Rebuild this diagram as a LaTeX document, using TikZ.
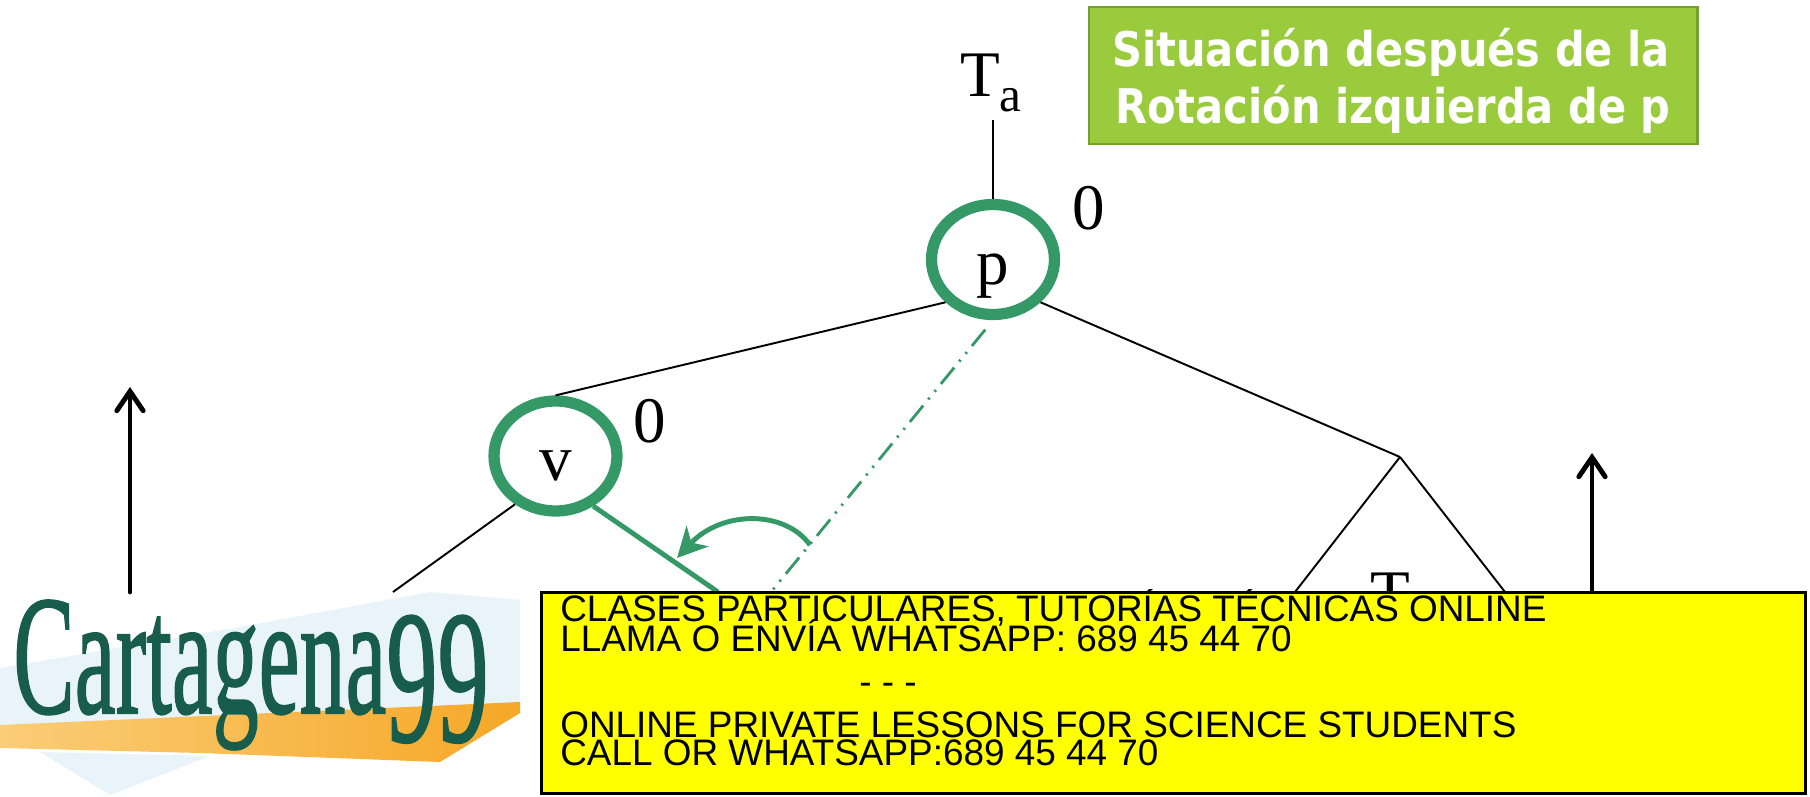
\documentclass[tikz,border=0pt]{standalone}
\usepackage{fontspec}
\usepackage{graphicx}
\setmainfont{Liberation Serif}
\newfontfamily\adfont{Liberation Sans}
\newfontfamily\ttlfont{DejaVu Sans}
\newfontfamily\logofont[FakeBold=1.2]{Liberation Serif}
\usetikzlibrary{shapes.geometric,arrows.meta}
\definecolor{ringgreen}{RGB}{52,153,102}
\definecolor{titlefill}{RGB}{154,203,60}
\definecolor{titleborder}{RGB}{118,160,44}
\definecolor{adyellow}{RGB}{255,255,0}
\definecolor{logoteal}{RGB}{24,92,76}
\definecolor{logoorange}{RGB}{246,168,38}
\definecolor{logoorangelight}{RGB}{250,205,120}
\definecolor{logoblue}{RGB}{232,243,250}
\begin{document}
\begin{tikzpicture}[x=0.02cm,y=-0.02cm,
  ring/.style={ellipse, draw=ringgreen, line width=6.4pt, fill=white,
    minimum width=2.46cm, minimum height=2.2cm, inner sep=0pt,
    text height=1cm, text depth=0pt, font=\fontsize{37}{37}\selectfont},
  lbl/.style={inner sep=0pt, font=\fontsize{37}{37}\selectfont},
  edge/.style={draw=black, line width=1.1pt},
  greenedge/.style={draw=ringgreen, line width=2.8pt},
  greenarrow/.style={draw=ringgreen, line width=2.8pt, -{Stealth[length=17pt,width=17pt,inset=5pt]}},
  dashdotgreen/.style={draw=ringgreen, line width=1.6pt,
    dash pattern=on 12pt off 4.5pt on 1.2pt off 4.5pt on 1.2pt off 4.5pt},
  bigarrow/.style={draw=black, line width=2.8pt, line cap=round,
    -{Straight Barb[length=11pt,width=15pt,line cap=round]}},
  titlebox/.style={rectangle, fill=titlefill, draw=titleborder, line width=1.2pt,
    minimum width=12.18cm, minimum height=2.74cm, inner sep=0pt},
  titletext/.style={inner sep=0pt, text=white, font=\ttlfont\bfseries\fontsize{27.2}{27.2}\selectfont},
  adbox/.style={rectangle, fill=adyellow, draw=black, line width=1.7pt,
    minimum width=25.3cm, minimum height=4.04cm, inner sep=0pt},
  adtext/.style={inner sep=0pt, text=black, font=\adfont\fontsize{21}{21}\selectfont},
]
\useasboundingbox (0,0) rectangle (1810,797);

% ---- coordinates for free ends
\coordinate (ta) at (993,120);
\coordinate (apex) at (1400,457);
\coordinate (tl) at (1295,592);
\coordinate (tr) at (1505,592);
\coordinate (vl) at (393,592);
\coordinate (vr) at (718,592);
\coordinate (ddend) at (771,592);
\coordinate (cs) at (810,545);
\coordinate (ct) at (677,558);
\coordinate (la0) at (130,592);
\coordinate (la1) at (130,387);
\coordinate (ra0) at (1592,592);
\coordinate (ra1) at (1592,453);

% ---- nodes
\node[ring] (p) at (993,259.5) {p};
\node[ring] (v) at (555.5,456) {v};
\node[lbl, anchor=base] (Ta) at (991,97) {T\raisebox{-8.5pt}{\fontsize{28}{28}\selectfont a}};
\node[lbl] (bp) at (1088.5,208.5) {0};
\node[lbl] (bv) at (649.5,421) {0};
\node[lbl, anchor=base] (Tc) at (1390,615) {T};

% ---- connectors
\draw[edge] (ta) -- (p.north);
\draw[edge] (p.222) -- (v.north);
\draw[edge] (p.-42) -- (apex);
\draw[edge] (apex) -- (tl);
\draw[edge] (apex) -- (tr);
\draw[edge] (v.230) -- (vl);
\draw[greenedge] (v.307) -- (vr);
\draw[dashdotgreen, shorten <=7pt] (p.south) -- (ddend);
\draw[greenarrow] (cs) .. controls (785,510) and (722,510) .. (ct);
\draw[bigarrow] (la0) -- (la1);
\draw[bigarrow] (ra0) -- (ra1);

% ---- title box
\node[titlebox] (tb) at (1393,75.5) {};
\node[titletext, anchor=base] (t1) at (1391,67) {\scalebox{0.87}[1]{Situación después de la}};
\node[titletext, anchor=base] (t2) at (1393,124) {\scalebox{0.87}[1]{Rotación izquierda de p}};

% ---- logo
\fill[logoblue] (0,668) -- (240,627) -- (430,592) -- (520,600) -- (520,703) -- (0,725) -- cycle;
\fill[logoblue] (40,752) -- (210,756) -- (110,795) -- cycle;
\shade[left color=logoorangelight, right color=logoorange]
  (0,725) -- (520,702) -- (520,713) -- (440,762) -- (200,753) -- (0,748) -- cycle;
\node[anchor=base west, inner sep=0pt, text=logoteal] (logo) at (13,713)
  {\logofont\fontsize{97}{97}\selectfont\scalebox{0.54}[1]{Cartagena{\fontsize{108}{108}\selectfont\raisebox{-16pt}{99}}}};

% ---- advertisement box
\node[adbox] (ad) at (1173.5,693) {};
\node[adtext, anchor=base west] (a1) at (560,621) {CLASES PARTICULARES, TUTORÍAS TÉCNICAS ONLINE};
\node[adtext, anchor=base west] (a2) at (560,651) {LLAMA O ENVÍA WHATSAPP: 689 45 44 70};
\node[adtext, anchor=base] (a3) at (888,694) {- - -};
\node[adtext, anchor=base west] (a4) at (560,737) {ONLINE PRIVATE LESSONS FOR SCIENCE STUDENTS};
\node[adtext, anchor=base west] (a5) at (560,765) {CALL OR WHATSAPP:689 45 44 70};
\end{tikzpicture}
\end{document}
